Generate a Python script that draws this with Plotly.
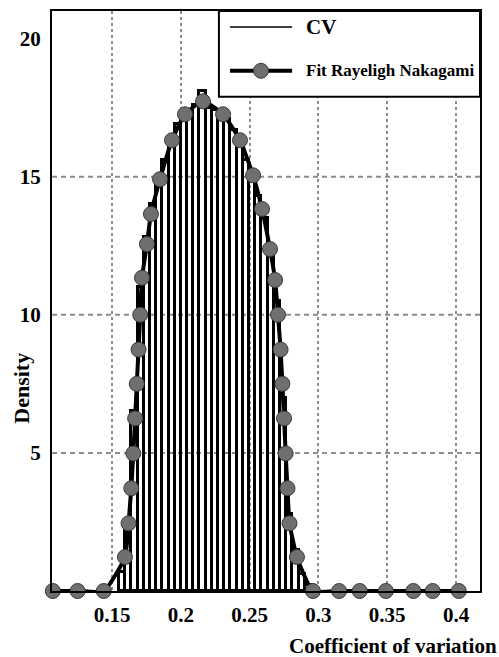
import plotly.graph_objects as go

# ---- data ----
bin_width = 0.0045
cv_centers = [0.1573, 0.1618, 0.1663, 0.1708, 0.1753, 0.1798, 0.1843, 0.1888, 0.1933, 0.1978,
              0.2023, 0.2068, 0.2113, 0.2158, 0.2203, 0.2248, 0.2293, 0.2338, 0.2383, 0.2428,
              0.2473, 0.2518, 0.2563, 0.2608, 0.2653, 0.2698, 0.2743, 0.2788, 0.2833, 0.2878,
              0.2923]
cv_density = [0.7, 2.3, 6.5, 11.0, 12.8, 14.0, 14.8, 15.6, 16.3, 16.9,
              17.3, 17.4, 17.6, 18.1, 17.5, 17.4, 17.3, 17.1, 16.7, 16.2,
              15.6, 15.0, 14.3, 13.5, 12.2, 10.5, 7.0, 2.8, 1.5, 0.6, 0.2]

fit_x = [0.107, 0.125, 0.144, 0.1594, 0.1620, 0.1640, 0.1655, 0.1668, 0.1680, 0.1693,
         0.1705, 0.1718, 0.1754, 0.1783, 0.1849, 0.1936, 0.2030, 0.2161, 0.2307, 0.2430,
         0.2525, 0.2590, 0.2648, 0.2685, 0.2706, 0.2725, 0.2738, 0.2750, 0.2762, 0.2775,
         0.2790, 0.2844, 0.2960, 0.3150, 0.3300, 0.3490, 0.3690, 0.3830, 0.4020]
fit_y = [0, 0, 0, 1.23, 2.45, 3.72, 4.98, 6.25, 7.5, 8.74,
         10.0, 11.34, 12.56, 13.65, 14.91, 16.32, 17.26, 17.73, 17.26, 16.32,
         15.05, 13.83, 12.38, 11.26, 10.0, 8.74, 7.5, 6.25, 4.98, 3.72,
         2.45, 1.23, 0, 0, 0, 0, 0, 0, 0]

x_ticks = [0.15, 0.2, 0.25, 0.3, 0.35, 0.4]
x_tick_text = ["0.15", "0.2", "0.25", "0.3", "0.35", "0.4"]
y_ticks = [5, 10, 15, 20]
y_grid = [5, 10, 15]

FONT = "Liberation Serif"
GRID = "#8c8c8c"

fig = go.Figure()

fig.add_trace(go.Bar(
    x=cv_centers, y=cv_density, width=bin_width,
    marker=dict(color="rgba(0,0,0,0)", line=dict(color="black", width=3)),
    name="CV", showlegend=False,
))

fig.add_trace(go.Scatter(
    x=fit_x, y=fit_y, mode="lines+markers",
    line=dict(color="black", width=4, shape="spline", smoothing=0.5),
    marker=dict(size=15, color="#6f6f6f", line=dict(color="#3a3a3a", width=1)),
    name="Fit Rayeligh Nakagami", showlegend=False, cliponaxis=False,
))

shapes = []
for g in y_grid:
    shapes.append(dict(type="line", xref="paper", yref="y", x0=0, x1=1, y0=g, y1=g,
                       line=dict(color=GRID, width=2, dash="5px,4px"), layer="below"))

# manual legend
shapes.append(dict(type="rect", xref="paper", yref="paper", x0=0.390, x1=1.0, y0=0.852, y1=1.0,
                   line=dict(color="black", width=2), fillcolor="white", layer="above"))
shapes.append(dict(type="line", xref="paper", yref="paper", x0=0.416, x1=0.561, y0=0.9725, y1=0.9725,
                   line=dict(color="black", width=1.5), layer="above"))
shapes.append(dict(type="line", xref="paper", yref="paper", x0=0.416, x1=0.561, y0=0.897, y1=0.897,
                   line=dict(color="black", width=4), layer="above"))
# legend marker circle (radius ~7.5px)
cx = (261 - 52) / 428
cy = (591 - 69) / 582
rx = 7.5 / 428
ry = 7.5 / 582
shapes.append(dict(type="circle", xref="paper", yref="paper", x0=cx - rx, x1=cx + rx, y0=cy - ry, y1=cy + ry,
                   fillcolor="#6f6f6f", line=dict(color="#3a3a3a", width=1), layer="above"))

annotations = [
    dict(text="CV", xref="paper", yref="paper", x=(304 - 52) / 428, y=0.9725, xanchor="left",
         yanchor="middle", showarrow=False, font=dict(family=FONT, size=21, color="black", weight="bold")),
    dict(text="Fit Rayeligh Nakagami", xref="paper", yref="paper", x=(304 - 52) / 428, y=0.897,
         xanchor="left", yanchor="middle", showarrow=False,
         font=dict(family=FONT, size=17, color="black", weight="bold")),
    dict(text="Coefficient of variation", xref="paper", yref="paper", x=(499 - 52) / 428,
         y=(591 - 646) / 582, xanchor="right", yanchor="middle", showarrow=False,
         font=dict(family=FONT, size=21, color="black", weight="bold")),
    dict(text="Density", xref="paper", yref="paper", x=(22 - 52) / 428, y=(591 - 388) / 582,
         xanchor="center", yanchor="middle", textangle=-90, showarrow=False,
         font=dict(family=FONT, size=22, color="black", weight="bold")),
]

fig.update_layout(
    width=499, height=657,
    margin=dict(l=52, r=19, t=9, b=66),
    paper_bgcolor="white", plot_bgcolor="white",
    bargap=0, shapes=shapes, annotations=annotations,
    showlegend=False,
    xaxis=dict(range=[0.1064, 0.4174], tickvals=x_ticks, ticktext=x_tick_text,
               showgrid=True, gridcolor=GRID, gridwidth=2, griddash="3px,3px",
               showline=True, linecolor="black", linewidth=2, mirror=True,
               ticks="", ticklabelstandoff=4, zeroline=False,
               tickfont=dict(family=FONT, size=21, color="black", weight="bold")),
    yaxis=dict(range=[0, 21.0], tickvals=y_ticks, showgrid=False,
               showline=True, linecolor="black", linewidth=2, mirror=True,
               ticks="", ticklabelstandoff=5, zeroline=False,
               tickfont=dict(family=FONT, size=21, color="black", weight="bold")),
)

fig.write_html("out.html")
